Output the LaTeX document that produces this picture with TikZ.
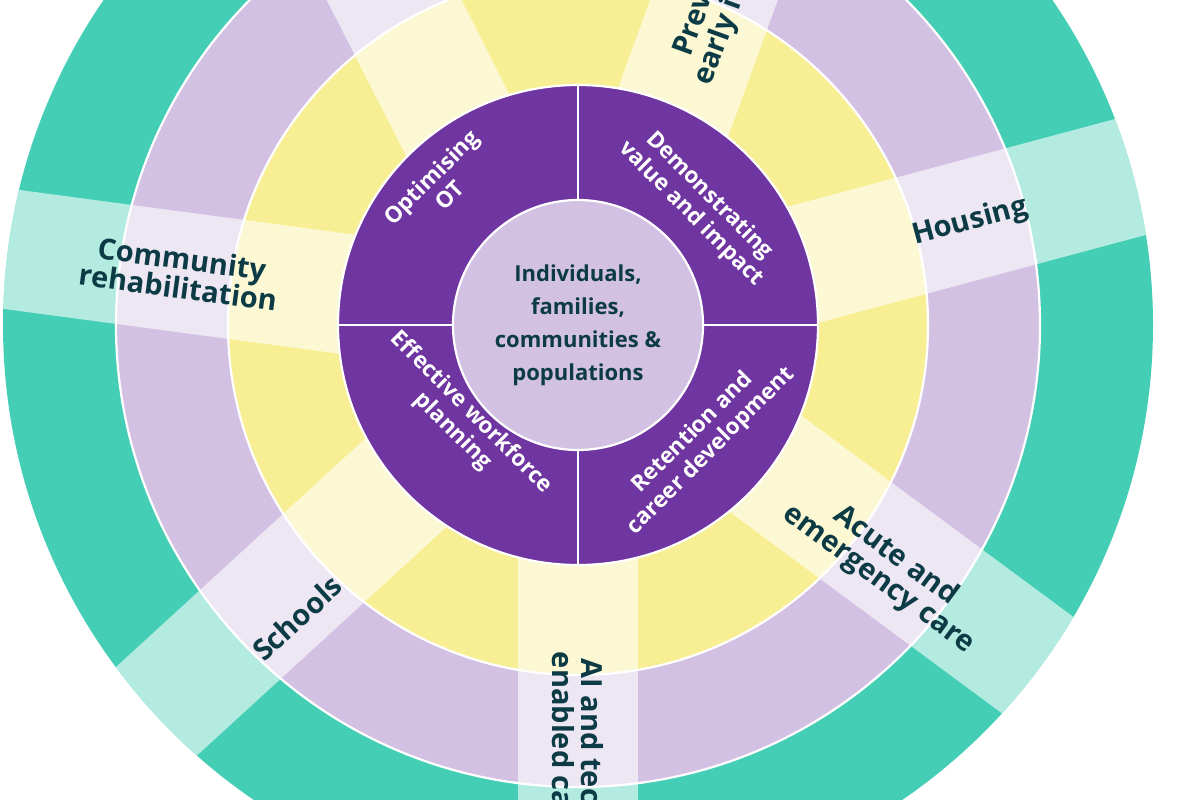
\documentclass[tikz,border=0pt]{standalone}
\usepackage{fontspec}
\setmainfont{Open Sans}
\definecolor{grn}{HTML}{44CEB6}
\definecolor{lav}{HTML}{D3C1E3}
\definecolor{yel}{HTML}{F8EF94}
\definecolor{pur}{HTML}{6F35A0}
\definecolor{ink}{HTML}{0D3B45}
\begin{document}
\begin{tikzpicture}[x=1pt,y=-1pt,
  ringline/.style={draw=white,line width=2.2pt},
  strip/.style={fill=white,fill opacity=0.6},
  lbl/.style={text=ink,font=\bfseries\fontsize{29}{29}\selectfont,align=center},
  qlbl/.style={text=white,font=\bfseries\fontsize{22.5}{26}\selectfont,align=center},
  clbl/.style={text=ink,font=\bfseries\fontsize{22}{33}\selectfont,align=center}]
\useasboundingbox (0,0) rectangle (1200,800);
\coordinate (c) at (578,325);
\fill[grn] (c) circle (575);
\fill[lav] (c) circle (462);
\fill[yel] (c) circle (350);
\begin{scope}
\clip (c) circle (575);
\foreach \a in {172.4,15,-36.5,-90,222.5}{
  \fill[strip,shift={(c)},rotate=\a] (0,-60) rectangle (1000,60);}
\fill[strip,shift={(445,100)},rotate=117] (-250,-60) rectangle (1000,60);
\fill[strip,shift={(714,0)},rotate=70] (-320,-60) rectangle (1000,60);
\end{scope}
\draw[ringline] (c) circle (462);
\draw[ringline] (c) circle (350);
\fill[pur] (c) circle (240);
\draw[ringline] (c) circle (240);
\draw[ringline] (338,325) -- (818,325);
\draw[ringline] (578,85) -- (578,565);
\node[circle,fill=lav,draw=white,line width=2.2pt,minimum size=250pt,inner sep=0] (core) at (c) {};
\node[clbl] (coretxt) at (c) {Individuals,\\families,\\communities \&\\populations};
\node[qlbl,rotate=45] (q1) at (440,186) {Optimising\\OT};
\node[qlbl,rotate=-45] (q2) at (700,205) {Demonstrating\\value and impact};
\node[qlbl,rotate=-45] (q3) at (462,422) {Effective workforce\\planning};
\node[qlbl,rotate=45] (q4) at (702,442) {Retention and\\career development};
\node[lbl,rotate=-7.6] (l1) at (180,273) {Community\\rehabilitation};
\node[lbl,rotate=15] (l2) at (970,222) {Housing};
\node[lbl,rotate=-36.5] (l3) at (887,568) {Acute and\\emergency care};
\node[lbl,rotate=-90] (l4) at (578,745) {AI and tech-\\enabled care};
\node[lbl,rotate=42.5] (l5) at (297,618) {Schools};
\node[lbl,rotate=70] (l6) at (735,-44) {Prevention and\\early intervention};
\node[lbl,rotate=-63] (l7) at (365,-45) {Primary\\care};
\end{tikzpicture}
\end{document}
